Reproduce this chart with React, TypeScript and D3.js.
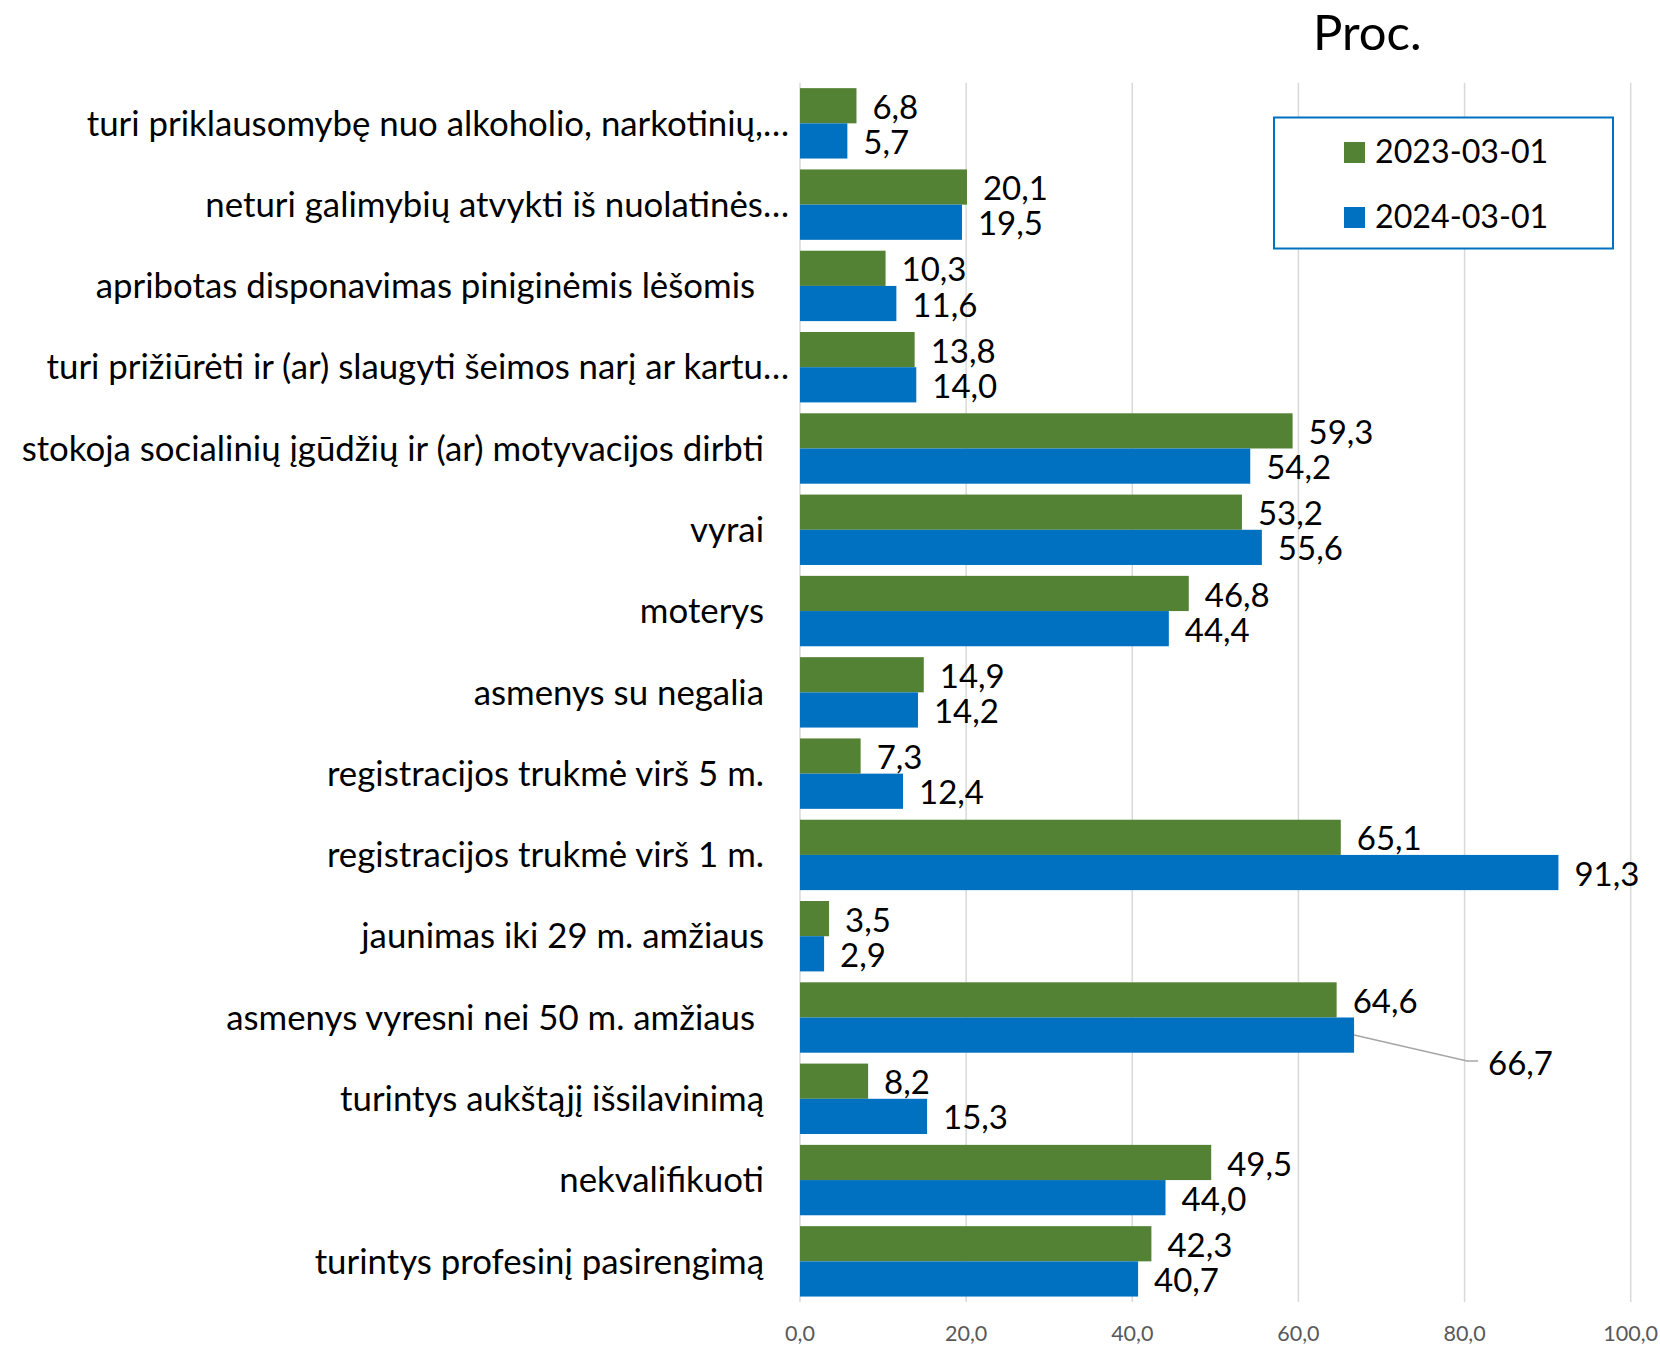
import React from "react";
import * as d3 from "d3";

const categories: string[] = [
  "turi priklausomybę nuo alkoholio, narkotinių,…",
  "neturi galimybių atvykti iš nuolatinės…",
  "apribotas disponavimas piniginėmis lėšomis ",
  "turi prižiūrėti ir (ar) slaugyti šeimos narį ar kartu…",
  "stokoja socialinių įgūdžių ir (ar) motyvacijos dirbti",
  "vyrai",
  "moterys",
  "asmenys su negalia",
  "registracijos trukmė virš 5 m.",
  "registracijos trukmė virš 1 m.",
  "jaunimas iki 29 m. amžiaus",
  "asmenys vyresni nei 50 m. amžiaus ",
  "turintys aukštąjį išsilavinimą",
  "nekvalifikuoti",
  "turintys profesinį pasirengimą",
];

const series2023: number[] = [6.8, 20.1, 10.3, 13.8, 59.3, 53.2, 46.8, 14.9, 7.3, 65.1, 3.5, 64.6, 8.2, 49.5, 42.3];
const series2024: number[] = [5.7, 19.5, 11.6, 14.0, 54.2, 55.6, 44.4, 14.2, 12.4, 91.3, 2.9, 66.7, 15.3, 44.0, 40.7];

const seriesNames: string[] = ["2023-03-01", "2024-03-01"];
const xTicks: number[] = [0, 20, 40, 60, 80, 100];
const title = "Proc.";

const GREEN = "#548235";
const BLUE = "#0070C0";
const FONT = "Lato, 'Open Sans', sans-serif";

const W = 1660;
const H = 1345;

export default function App() {
  const x = d3.scaleLinear().domain([0, 100]).range([800, 1630.7]);
  const y = d3
    .scaleBand<string>()
    .domain(categories)
    .range([82.7, 1302])
    .paddingInner(0.134)
    .paddingOuter(0.067);
  const barH = y.bandwidth() / 2;
  const fmt = (v: number) => v.toFixed(1).replace(".", ",");
  const series = [series2023, series2024];
  const colors = [GREEN, BLUE];

  return (
    <svg
      width={W}
      height={H}
      style={{ position: "absolute", left: 0, top: 0, background: "#fff" }}
      fontFamily={FONT}
    >
      <rect x={0} y={0} width={W} height={H} fill="#fff" />
      {/* gridlines */}
      {xTicks.map((t) => (
        <line
          key={t}
          x1={x(t)}
          x2={x(t)}
          y1={82.7}
          y2={1302}
          stroke="#d9d9d9"
          strokeWidth={1.5}
        />
      ))}
      {/* tick labels */}
      {xTicks.map((t) => (
        <text
          key={"t" + t}
          x={x(t)}
          y={1341}
          fontSize={21.5}
          fill="#595959"
          textAnchor="middle"
        >
          {fmt(t)}
        </text>
      ))}
      {/* bars */}
      {categories.map((c, i) =>
        series.map((s, k) => (
          <rect
            key={c + k}
            x={x(0)}
            y={(y(c) as number) + k * barH}
            width={x(s[i]) - x(0)}
            height={barH}
            fill={colors[k]}
          />
        ))
      )}
      {/* category labels */}
      {categories.map((c) => (
        <text
          key={"c" + c}
          x={c.endsWith("…") ? 789 : 764}
          y={(y(c) as number) + y.bandwidth() / 2}
          dy="0.35em"
          fontSize={34.8}
          textAnchor="end"
          fill="#000"
          style={{ whiteSpace: "pre" }}
        >
          {c}
        </text>
      ))}
      {/* value labels */}
      {categories.map((c, i) =>
        series.map((s, k) => {
          const cy = (y(c) as number) + k * barH + barH / 2;
          const xe = x(s[i]);
          const isLeader = k === 1 && c.startsWith("asmenys vyresni");
          if (isLeader) {
            return (
              <g key={"v" + c + k}>
                <polyline
                  points={`${xe},${cy} ${xe + 113},${cy + 26} ${xe + 124},${cy + 26}`}
                  fill="none"
                  stroke="#a6a6a6"
                  strokeWidth={1.5}
                />
                <text x={xe + 134} y={cy + 28} dy="0.35em" fontSize={33} fill="#000">
                  {fmt(s[i])}
                </text>
              </g>
            );
          }
          return (
            <text
              key={"v" + c + k}
              x={xe + 16}
              y={cy + 1.5}
              dy="0.35em"
              fontSize={33}
              fill="#000"
            >
              {fmt(s[i])}
            </text>
          );
        })
      )}
      {/* title */}
      <text x={1313} y={50} fontSize={49} fill="#000">
        {title}
      </text>
      {/* legend */}
      <rect x={1274} y={117.5} width={339} height={131} fill="#fff" stroke={BLUE} strokeWidth={2} />
      {seriesNames.map((n, k) => (
        <g key={n}>
          <rect x={1344} y={142 + k * 65} width={21} height={21} fill={colors[k]} />
          <text x={1375} y={163 + k * 65} fontSize={32.2} fill="#000">
            {n}
          </text>
        </g>
      ))}
    </svg>
  );
}
